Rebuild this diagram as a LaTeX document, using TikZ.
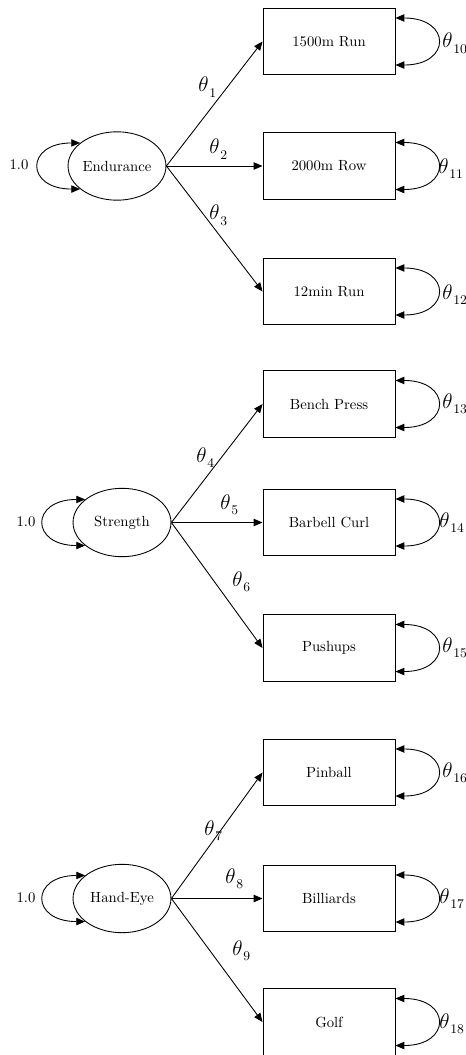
\documentclass[tikz,border=0pt]{standalone}
\usetikzlibrary{shapes.geometric,arrows.meta}
\newcommand\thl[1]{{\Large$\theta$}\kern0.5pt\raisebox{-4pt}{\small #1}}
\begin{document}
\begin{tikzpicture}[x=0.68pt,y=-0.68pt,line width=0.6pt,
  lat/.style={draw, ellipse, minimum width=66.6pt, minimum height=46.5pt, inner sep=0pt},
  obs/.style={draw, rectangle, minimum width=89.8pt, minimum height=45pt, inner sep=0pt},
  load/.style={-{Triangle[length=6pt,width=5pt]}},
  var/.style={{Triangle[length=6pt,width=5pt]}-{Triangle[length=6pt,width=5pt]}},
  lab/.style={anchor=base west, inner sep=0pt},
  one/.style={inner sep=0pt}]
\useasboundingbox (0,0) rectangle (466,1055);

% ---------- Group 1 ----------
\node[lat] (E) at (117,166) {Endurance};
\node[obs] (B1) at (329,41.5) {1500m Run};
\node[obs] (B2) at (329,166) {2000m Row};
\node[obs] (B3) at (329,291.5) {12min Run};
\node[one] (v1) at (19,165) {1.0};
\draw[var] (E.148) .. controls +(-55,0) and +(-55,0) .. (E.212);
\draw[load] (E.east) -- (B1.west);
\draw[load] (E.east) -- (B2.west);
\draw[load] (E.east) -- (B3.west);
\node[lab] (t1) at (198,92) {\thl{1}};
\node[lab] (t2) at (209,154) {\thl{2}};
\node[lab] (t3) at (209,220) {\thl{3}};
\draw[var] ([yshift=-6.8pt]B1.north east) .. controls +(56,0) and +(56,0) .. ([yshift=6.8pt]B1.south east);
\draw[var] ([yshift=-6.8pt]B2.north east) .. controls +(56,0) and +(56,0) .. ([yshift=6.8pt]B2.south east);
\draw[var] ([yshift=-6.8pt]B3.north east) .. controls +(56,0) and +(56,0) .. ([yshift=6.8pt]B3.south east);
\node[lab] (t10) at (442,48) {\thl{10}};
\node[lab] (t11) at (438,173) {\thl{11}};
\node[lab] (t12) at (442,299) {\thl{12}};

% ---------- Group 2 ----------
\node[lat] (S) at (122,522.5) {Strength};
\node[obs] (B4) at (329,404) {Bench Press};
\node[obs] (B5) at (329,522.5) {Barbell Curl};
\node[obs] (B6) at (329,648) {Pushups};
\node[one] (v2) at (26,522) {1.0};
\draw[var] (S.148) .. controls +(-55,0) and +(-55,0) .. (S.212);
\draw[load] (S.east) -- (B4.west);
\draw[load] (S.east) -- (B5.west);
\draw[load] (S.east) -- (B6.west);
\node[lab] (t4) at (196,462) {\thl{4}};
\node[lab] (t5) at (220,509) {\thl{5}};
\node[lab] (t6) at (232,586) {\thl{6}};
\draw[var] ([yshift=-6.8pt]B4.north east) .. controls +(56,0) and +(56,0) .. ([yshift=6.8pt]B4.south east);
\draw[var] ([yshift=-6.8pt]B5.north east) .. controls +(56,0) and +(56,0) .. ([yshift=6.8pt]B5.south east);
\draw[var] ([yshift=-6.8pt]B6.north east) .. controls +(56,0) and +(56,0) .. ([yshift=6.8pt]B6.south east);
\node[lab] (t13) at (442,408) {\thl{13}};
\node[lab] (t14) at (439,527) {\thl{14}};
\node[lab] (t15) at (442,652) {\thl{15}};

% ---------- Group 3 ----------
\node[lat] (H) at (122,898.5) {Hand-Eye};
\node[obs] (B7) at (329,772.5) {Pinball};
\node[obs] (B8) at (329,898.5) {Billiards};
\node[obs] (B9) at (329,1022) {Golf};
\node[one] (v3) at (26,898) {1.0};
\draw[var] (H.148) .. controls +(-55,0) and +(-55,0) .. (H.212);
\draw[load] (H.east) -- (B7.west);
\draw[load] (H.east) -- (B8.west);
\draw[load] (H.east) -- (B9.west);
\node[lab] (t7) at (204,835) {\thl{7}};
\node[lab] (t8) at (225,883) {\thl{8}};
\node[lab] (t9) at (232,955) {\thl{9}};
\draw[var] ([yshift=-6.8pt]B7.north east) .. controls +(56,0) and +(56,0) .. ([yshift=6.8pt]B7.south east);
\draw[var] ([yshift=-6.8pt]B8.north east) .. controls +(56,0) and +(56,0) .. ([yshift=6.8pt]B8.south east);
\draw[var] ([yshift=-6.8pt]B9.north east) .. controls +(56,0) and +(56,0) .. ([yshift=6.8pt]B9.south east);
\node[lab] (t16) at (442,777) {\thl{16}};
\node[lab] (t17) at (439,903) {\thl{17}};
\node[lab] (t18) at (439,1028) {\thl{18}};
\end{tikzpicture}
\end{document}
